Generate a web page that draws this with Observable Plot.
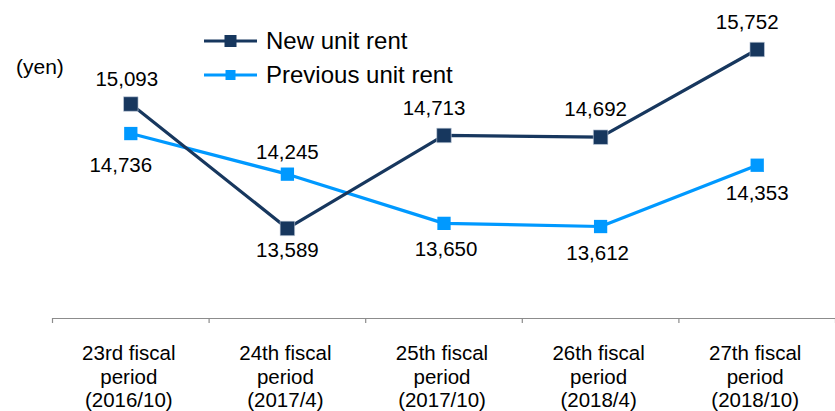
<!DOCTYPE html>
<html><head><meta charset="utf-8">
<script src="https://cdn.jsdelivr.net/npm/d3@7"></script>
<script src="https://cdn.jsdelivr.net/npm/@observablehq/plot@0.6"></script>
<style>
body{margin:0;background:#fff;font-family:"Liberation Sans",Arial,sans-serif;}
#wrap{position:relative;width:835px;height:411px;overflow:hidden;}
#wrap > svg{position:absolute;left:0;top:0;}
.unit{position:absolute;left:16px;top:55px;font-size:21px;color:#000;}
.legend{position:absolute;left:204px;top:24px;}
.legend .row{display:flex;align-items:center;height:34px;font-size:24px;color:#000;}
.legend svg{margin-right:9px;}
</style></head><body><div id="wrap"></div>
<script>
const categories = ["23rd fiscal\nperiod\n(2016/10)", "24th fiscal\nperiod\n(2017/4)", "25th fiscal\nperiod\n(2017/10)", "26th fiscal\nperiod\n(2018/4)", "27th fiscal\nperiod\n(2018/10)"];
const newRent = [15093, 13589, 14713, 14692, 15752];
const prevRent = [14736, 14245, 13650, 13612, 14353];
const seriesNames = ["New unit rent", "Previous unit rent"];
const unitLabel = "(yen)";
const yDomain = [12500, 16000];

// styling
const colors = ["#17375e", "#0099ff"];
const newLabelOffset = [[-4,-25],[0,22],[-10,-27],[-5,-28],[-10,-27]];
const prevLabelOffset = [[-10,32],[0,-22],[2,26],[-3,27],[0,28]];
const fmt = d3.format(",");

const rowsNew = categories.map((c, i) => ({i, v: newRent[i]}));
const rowsPrev = categories.map((c, i) => ({i, v: prevRent[i]}));
const boundaries = categories.map((c, i) => i - 0.5).concat([categories.length - 0.5]);

const labelMarks = (rows, offs) => rows.map((r, k) => Plot.text([r], {
  x: "i", y: "v", text: d => fmt(d.v), dx: offs[k][0], dy: offs[k][1],
  fontSize: 20.5, fill: "#000"
}));

const chart = Plot.plot({
  width: 835, height: 411,
  marginLeft: 52, marginRight: 0, marginTop: 28.5, marginBottom: 93,
  style: {fontFamily: "'Liberation Sans', Arial, sans-serif", background: "transparent", overflow: "visible"},
  x: {type: "linear", domain: [-0.5, categories.length - 0.5], axis: null},
  y: {type: "linear", domain: yDomain, axis: null},
  marks: [
    Plot.ruleY([yDomain[0]], {stroke: "#8c8c8c", strokeWidth: 1.2}),
    Plot.ruleX(boundaries, {x: d => d, y1: yDomain[0], y2: yDomain[0], insetBottom: -5, stroke: "#8c8c8c", strokeWidth: 1.2}),
    Plot.text(categories, {x: (d, i) => i, frameAnchor: "bottom", text: d => d, lineAnchor: "top", dx: -2, dy: 24, lineHeight: 1.17, fontSize: 20.5, fill: "#000"}),
    Plot.line(rowsPrev, {x: "i", y: "v", stroke: colors[1], strokeWidth: 3.2}),
    Plot.dot(rowsPrev, {x: "i", y: "v", symbol: "square", r: 7.5, fill: colors[1], stroke: "none"}),
    Plot.line(rowsNew, {x: "i", y: "v", stroke: colors[0], strokeWidth: 3.2}),
    Plot.dot(rowsNew, {x: "i", y: "v", symbol: "square", r: 8.2, fill: colors[0], stroke: "#c9d3e0", strokeWidth: 0.6}),
    ...labelMarks(rowsNew, newLabelOffset),
    ...labelMarks(rowsPrev, prevLabelOffset)
  ]
});

const wrap = document.getElementById("wrap");
wrap.appendChild(chart);

const u = document.createElement("div");
u.className = "unit"; u.textContent = unitLabel;
wrap.appendChild(u);

const lg = document.createElement("div");
lg.className = "legend";
seriesNames.forEach((name, k) => {
  const row = document.createElement("div");
  row.className = "row";
  const s = k === 0 ? 12 : 10;
  row.innerHTML = `<svg width="53" height="20"><line x1="0" x2="53" y1="10" y2="10" stroke="${colors[k]}" stroke-width="3.2"/><rect x="${26.5 - s/2}" y="${10 - s/2}" width="${s}" height="${s}" fill="${colors[k]}"/></svg><span>${name}</span>`;
  lg.appendChild(row);
});
wrap.appendChild(lg);
</script>
</body></html>
